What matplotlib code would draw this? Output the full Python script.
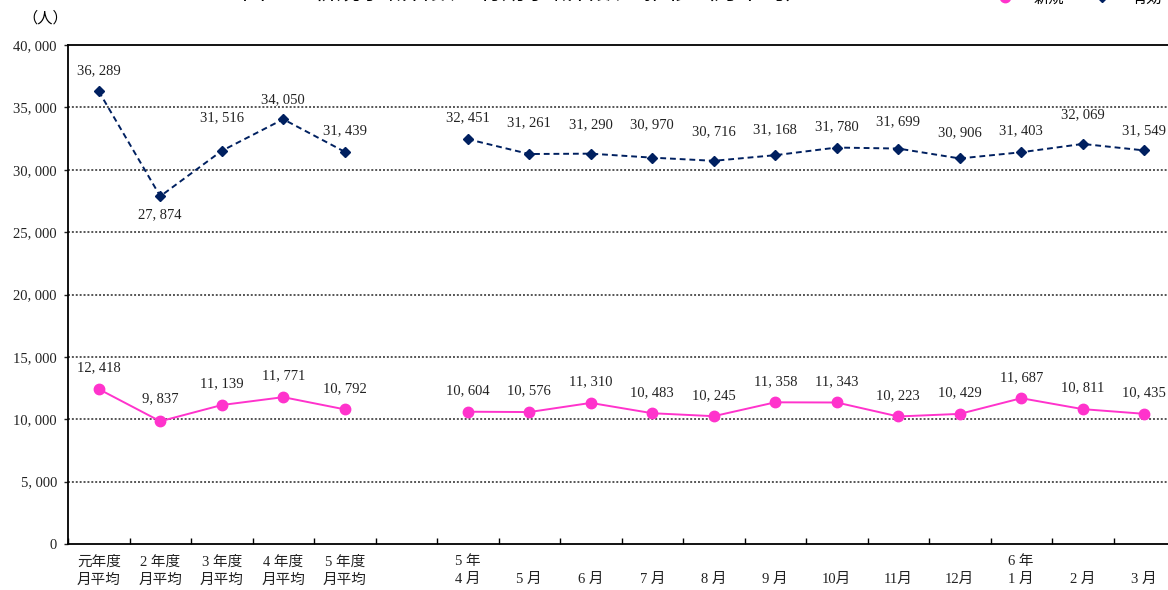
import numpy as np
import matplotlib
matplotlib.use("Agg")
import matplotlib.pyplot as plt
from matplotlib.lines import Line2D

plt.rcParams['font.family'] = ['Liberation Serif', 'Noto Sans CJK JP', 'DejaVu Sans']

# ── Data ──────────────────────────────────────────────────────────────────────
categories = ["元年度\n月平均", "2 年度\n月平均", "3 年度\n月平均", "4 年度\n月平均", "5 年度\n月平均",
              "",
              "5 年\n4 月", "\n5 月", "\n6 月", "\n7 月", "\n8 月", "\n9 月", "\n10月",
              "\n11月", "\n12月", "6 年\n1 月", "\n2 月", "\n3 月"]

yuko_annual = [36289, 27874, 31516, 34050, 31439]
yuko_monthly = [32451, 31261, 31290, 30970, 30716, 31168, 31780, 31699, 30906, 31403, 32069, 31549]
shinki_annual = [12418, 9837, 11139, 11771, 10792]
shinki_monthly = [10604, 10576, 11310, 10483, 10245, 11358, 11343, 10223, 10429, 11687, 10811, 10435]

y_ticks = [0, 5000, 10000, 15000, 20000, 25000, 30000, 35000, 40000]

# label offsets in pixels (layout only)
yuko_lbl_off = [21, -18, 33, 20, 21, 21, 31, 29, 33, 29, 25, 21, 27, 26, 22, 29, 20]
shinki_lbl_off = [21, 23, 21, 21, 21, 21, 21, 21, 21, 21, 21, 21, 21, 21, 21, 21, 21]

MAGENTA = "#FF33CC"
NAVY = "#002060"

def fmt(v):
    s = f"{v:,}"
    return s.replace(",", ", ")

# ── Plot ──────────────────────────────────────────────────────────────────────
DPI = 100
fig = plt.figure(figsize=(11.68, 5.90), dpi=DPI)
ax = fig.add_axes([68 / 1168, 1 - 544 / 590, 1107 / 1168, 499 / 590])

x_ann = np.arange(len(yuko_annual))
x_mon = np.arange(len(yuko_monthly)) + len(yuko_annual) + 1

for xs, ys in [(x_ann, yuko_annual), (x_mon, yuko_monthly)]:
    ax.plot(xs, ys, color=NAVY, linestyle=(0, (3, 2)), linewidth=1.4,
            marker="D", markersize=5.5, markerfacecolor=NAVY, markeredgecolor=NAVY, zorder=4)
for xs, ys in [(x_ann, shinki_annual), (x_mon, shinki_monthly)]:
    ax.plot(xs, ys, color=MAGENTA, linestyle="-", linewidth=1.4,
            marker="o", markersize=7.5, markerfacecolor=MAGENTA, markeredgecolor=MAGENTA, zorder=4)

# data labels
xs_all = list(x_ann) + list(x_mon)
for i, (x, v) in enumerate(zip(xs_all, yuko_annual + yuko_monthly)):
    off = yuko_lbl_off[i] * 72 / DPI
    ax.annotate(fmt(v), (x, v), xytext=(0, off), textcoords="offset points",
                ha="center", va="center", fontsize=10.5, color="#222222")
for i, (x, v) in enumerate(zip(xs_all, shinki_annual + shinki_monthly)):
    off = shinki_lbl_off[i] * 72 / DPI
    ax.annotate(fmt(v), (x, v), xytext=(0, off), textcoords="offset points",
                ha="center", va="center", fontsize=10.5, color="#222222")

ax.set_xlim(-0.5, len(categories) - 0.5)
ax.set_ylim(0, 40000)

# gridlines
for t in y_ticks[1:-1]:
    ax.axhline(t, color="#555555", linestyle=(0, (1, 1)), linewidth=1.4, zorder=1)

ax.set_yticks(y_ticks)
ax.set_yticklabels([fmt(t) for t in y_ticks], fontsize=10.5)
ax.tick_params(axis="y", direction="out", length=3, width=1, pad=5, colors="#222222")

ax.set_xticks(np.arange(-0.5, len(categories)), minor=False)
ax.set_xticklabels([])
ax.tick_params(axis="x", which="major", direction="in", length=4, width=1)
ax.set_xticks(np.arange(len(categories)), minor=True)
ax.set_xticklabels(categories, minor=True, fontsize=10.5, linespacing=1.5)
ax.tick_params(axis="x", which="minor", length=0, pad=8, colors="#222222")

for s in ["left", "bottom", "top"]:
    ax.spines[s].set_linewidth(1.3)
    ax.spines[s].set_color("black")
ax.spines["right"].set_visible(False)

# unit label
fig.text(22 / 1168, 1 - 18 / 590, "（人）", fontsize=11, ha="left", va="center",
         family=["Noto Sans CJK JP"])

# title (cut off at the top edge)
fig.text(525 / 1168, 1 + 8 / 590, "図１　新規求職者数と有効求職者数の推移（月平均）",
         fontsize=17, ha="center", va="center", family=["Noto Sans CJK JP"])

# legend
handles = [
    Line2D([], [], color=MAGENTA, linestyle="-", linewidth=1.6, marker="o",
           markersize=7.5, markerfacecolor=MAGENTA, markeredgecolor=MAGENTA),
    Line2D([], [], color=NAVY, linestyle=(0, (2, 1)), linewidth=1.6, marker="D",
           markersize=5.5, markerfacecolor=NAVY, markeredgecolor=NAVY),
]
fig.legend(handles, ["新規", "有効"], loc="center left",
           bbox_to_anchor=(968 / 1168, 1 + 2 / 590), ncol=2, frameon=False,
           handlelength=3.0, columnspacing=1.0, handletextpad=0.4,
           prop={"family": ["Noto Sans CJK JP"], "size": 11})

fig.savefig("out.png", dpi=DPI)
